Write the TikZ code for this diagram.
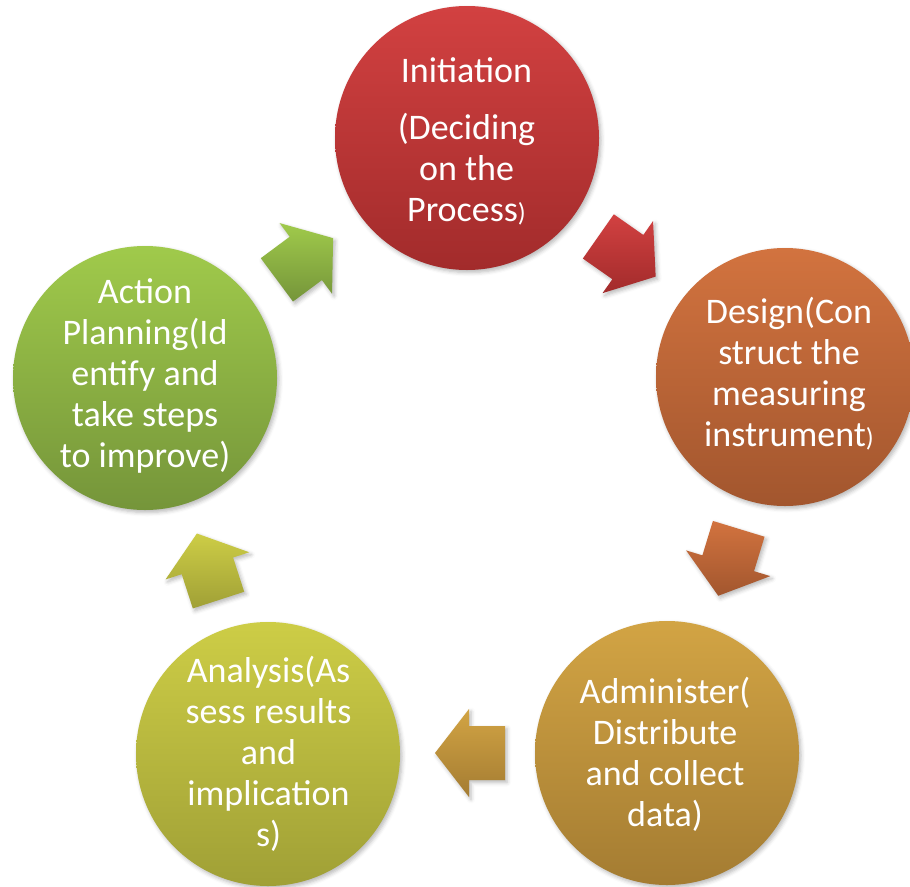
\documentclass[tikz,border=0pt]{standalone}
\usepackage{fontspec}
\setmainfont{Carlito}
\usetikzlibrary{shadows.blur}
\definecolor{redT}{HTML}{D24141}
\definecolor{redB}{HTML}{A22B2B}
\definecolor{orgT}{HTML}{D2733F}
\definecolor{orgB}{HTML}{A2562E}
\definecolor{golT}{HTML}{D2A444}
\definecolor{golB}{HTML}{A47C32}
\definecolor{olvT}{HTML}{CDCD46}
\definecolor{olvB}{HTML}{A0A036}
\definecolor{grnT}{HTML}{A0CA4B}
\definecolor{grnB}{HTML}{75953A}
\tikzset{
  sh/.style={blur shadow={shadow xshift=2pt, shadow yshift=-2.5pt, shadow blur radius=4pt, shadow opacity=28}},
  stage/.style={circle, inner sep=0pt, minimum size=264pt, sh},
  lbl/.style={anchor=north, inner sep=0pt, align=center, text=white,
    font={\fontsize{36}{41}\selectfont}},
  blockarrow/.style={sh},
}
\newcommand{\smallparen}{{\fontsize{26}{41}\selectfont)}}
\newcommand{\blockarr}[5]{%
  \path[blockarrow, top color=#4, bottom color=#5, shift={(#1,#2)}, rotate=#3]
    (35,0) -- (1,44) -- (1,27) -- (-35,27) -- (-35,-27) -- (1,-27) -- (1,-44) -- cycle;}
\begin{document}
\begin{tikzpicture}[x=1pt, y=-1pt]
\useasboundingbox (0,0) rectangle (910,886);
% stages
\node[stage, top color=redT, bottom color=redB] (init) at (467,138) {};
\node[stage, top color=orgT, bottom color=orgB, minimum size=258pt] (design) at (785,377) {};
\node[stage, top color=golT, bottom color=golB] (admin) at (667,753) {};
\node[stage, top color=olvT, bottom color=olvB] (anal) at (268,754) {};
\node[stage, top color=grnT, bottom color=grnB] (action) at (145,378) {};
% arrows
\blockarr{627}{256.5}{-35}{redT}{redB}
\blockarr{728.5}{562.3}{-107}{orgT}{orgB}
\blockarr{470}{753}{180}{golT}{golB}
\blockarr{207.7}{566.8}{108}{olvT}{olvB}
\blockarr{305}{259}{36.6}{grnT}{grnB}
% labels
\node[lbl] (tinit) at (466.5,54) {\rule{0pt}{28pt}Initiation\\[16pt](Deciding\\on the\\Process\smallparen};
\node[lbl] (tdesign) at (789,295) {\rule{0pt}{28pt}Design(Con\\struct the\\measuring\\instrument\smallparen};
\node[lbl] (tadmin) at (665,675) {\rule{0pt}{28pt}Administer(\\Distribute\\and collect\\data)};
\node[lbl] (tanal) at (268.5,654) {\rule{0pt}{28pt}Analysis(As\\sess results\\and\\implication\\s)};
\node[lbl] (taction) at (145,275) {\rule{0pt}{28pt}Action\\Planning(Id\\entify and\\take steps\\to improve)};
\end{tikzpicture}
\end{document}
